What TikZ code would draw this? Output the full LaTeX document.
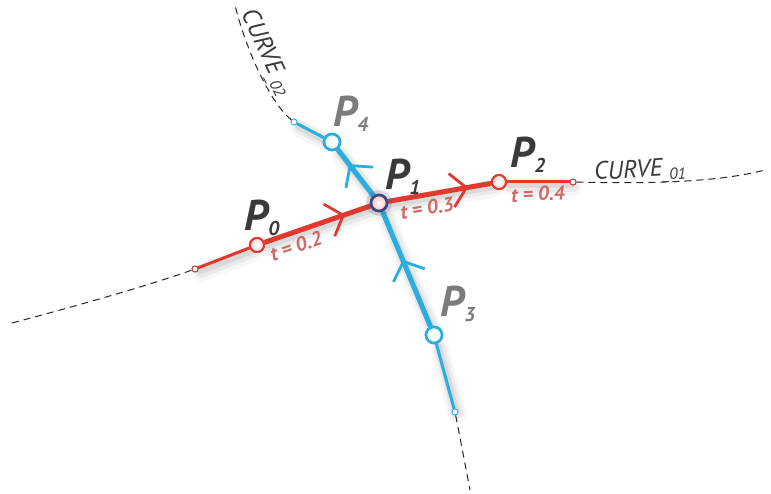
\documentclass[tikz,border=0pt]{standalone}
\usepackage{fontspec}
\newfontfamily\labfont{PT Sans}
\usetikzlibrary{calc}
\definecolor{cred}{HTML}{E0392F}
\definecolor{cblue}{HTML}{2BAEDF}
\definecolor{cnavy}{HTML}{3A4A7E}
\definecolor{tred}{HTML}{D06A68}
\definecolor{pdark}{HTML}{3A3A3A}
\definecolor{pgray}{HTML}{7C7C7C}
\tikzset{
  shadowed/.style={
    preaction={draw=black, opacity=0.07, line width=7pt, line cap=round, transform canvas={shift={(2pt,-3pt)}}},
    preaction={draw=black, opacity=0.05, line width=12pt, line cap=round, transform canvas={shift={(3pt,-4pt)}}},
    preaction={draw=black, opacity=0.03, line width=18pt, line cap=round, transform canvas={shift={(3pt,-5pt)}}}},
  redthick/.style={draw=cred, line width=5pt, shadowed},
  redthin/.style={draw=cred, line width=3pt, shadowed},
  bluethick/.style={draw=cblue, line width=5pt, shadowed},
  bluethin/.style={draw=cblue, line width=3pt, shadowed},
  chevst/.style={line width=2.8pt, line cap=butt, line join=miter},
  ptred/.style={circle, draw=cred, line width=2pt, inner color=white, outer color=red!15, minimum size=14pt, inner sep=0pt},
  ptblue/.style={circle, draw=cblue, line width=2.6pt, inner color=white, outer color=cyan!10, minimum size=16pt, inner sep=0pt},
  ptmid/.style={circle, draw=cnavy, line width=2.6pt, inner color=white, outer color=red!25, minimum size=16pt, inner sep=0pt},
  glow/.style={circle, fill=cnavy, opacity=0.18, minimum size=26pt, inner sep=0pt},
  endred/.style={circle, draw=cred!80!black, line width=0.8pt, fill=white, minimum size=6pt, inner sep=0pt},
  endblue/.style={circle, draw=cblue, line width=0.8pt, fill=white, minimum size=6pt, inner sep=0pt},
  plab/.style={font=\labfont\bfseries\itshape\fontsize{43}{43}\selectfont, inner sep=0pt},
  tlab/.style={font=\labfont\bfseries\itshape\fontsize{20}{20}\selectfont, text=tred, inner sep=0pt},
  clab/.style={font=\labfont\itshape\fontsize{25}{25}\selectfont, text=pdark, inner sep=0pt},
  dashcurve/.style={draw=black!85, line width=1pt, dash pattern=on 7pt off 5pt}
}
\newcommand{\psub}[1]{\raisebox{-0.25ex}{\fontsize{20}{20}\selectfont #1}}
\newcommand{\csub}[1]{\raisebox{-0.3ex}{\fontsize{16}{16}\selectfont #1}}
\begin{document}
\begin{tikzpicture}[x=1pt,y=1pt]
\useasboundingbox (0,0) rectangle (771,493);
% nodes
\node[endred] (S0) at (195,224) {};
\node[ptred] (P0) at (257,248) {};
\node[ptmid] (P1) at (379,290) {};
\node[ptred] (P2) at (499,311) {};
\node[endred] (S2) at (573,311) {};
\node[endblue] (S4) at (294,371) {};
\node[ptblue] (P4) at (332,351) {};
\node[ptblue] (P3) at (434,158) {};
\node[endblue] (S3) at (455,81) {};
\coordinate (L0) at (12,170);
\coordinate (R0) at (765,323);
\coordinate (T0) at (235,488);
\coordinate (B0) at (470,3);
% dashed curves
\draw[dashcurve] (L0) .. controls (80,188) and (150,208) .. (S0);
\draw[dashcurve] (S2) .. controls (650,309) and (720,311) .. (R0);
\draw[dashcurve] (S4) .. controls (268,392) and (244,450) .. (T0);
\draw[dashcurve] (S3) .. controls (462,45) .. (B0);
% blue lines
\draw[bluethin] (S4) -- (P4);
\draw[bluethick] (P1) -- (P4);
\draw[bluethick] (P3) -- (P1);
\draw[bluethin] (P3) -- (S3);
% red lines
\draw[redthin] (S0) -- (P0);
\draw[redthick] (P0) -- (P1);
\draw[redthick] (P1) -- (P2);
\draw[redthin] (P2) -- (S2);
% chevrons
\coordinate (ch1) at ($(P0)!0.70!(P1)$);
\coordinate (ch2) at ($(P1)!0.72!(P2)$);
\coordinate (ch3) at ($(P1)!0.60!(P4)$);
\coordinate (ch4) at ($(P3)!0.55!(P1)$);
\draw[chevst, draw=cred, shift={(ch1)}, rotate=19] (-14,17) -- (1,0) -- (-14,-17);
\draw[chevst, draw=cred, shift={(ch2)}, rotate=10] (-14,17) -- (1,0) -- (-14,-17);
\draw[chevst, draw=cblue, shift={(ch3)}, rotate=127.6] (-14,17) -- (1,0) -- (-14,-17);
\draw[chevst, draw=cblue, shift={(ch4)}, rotate=112.6] (-14,17) -- (1,0) -- (-14,-17);
% points on top
\node[ptred] at (P0) {};
\node[glow] at (P1) {};
\node[ptmid] at (P1) {};
\node[ptred] at (P2) {};
\node[ptblue] at (P4) {};
\node[ptblue] at (P3) {};
\node[endred] at (S0) {};
\node[endred] at (S2) {};
\node[endblue] at (S4) {};
\node[endblue] at (S3) {};
% labels
\node[plab, text=pdark] (LP0) at (262,275) {P\psub{0}};
\node[plab, text=pdark] (LP1) at (403,316) {P\psub{1}};
\node[plab, text=pdark] (LP2) at (528,338) {P\psub{2}};
\node[plab, text=pgray] (LP3) at (458,189) {P\psub{3}};
\node[plab, text=pgray] (LP4) at (351,379) {P\psub{4}};
\node[tlab, rotate=19] (T2) at (296,247) {t = 0.2};
\node[tlab, rotate=10] (T3) at (427,285) {t = 0.3};
\node[tlab, rotate=3] (T4) at (538,299) {t = 0.4};
\node[clab, rotate=3] (C1) at (640,321) {CURVE\csub{\_01}};
\node[clab, rotate=-65] (C2) at (265,440) {CURVE\csub{\_02}};
\end{tikzpicture}
\end{document}
